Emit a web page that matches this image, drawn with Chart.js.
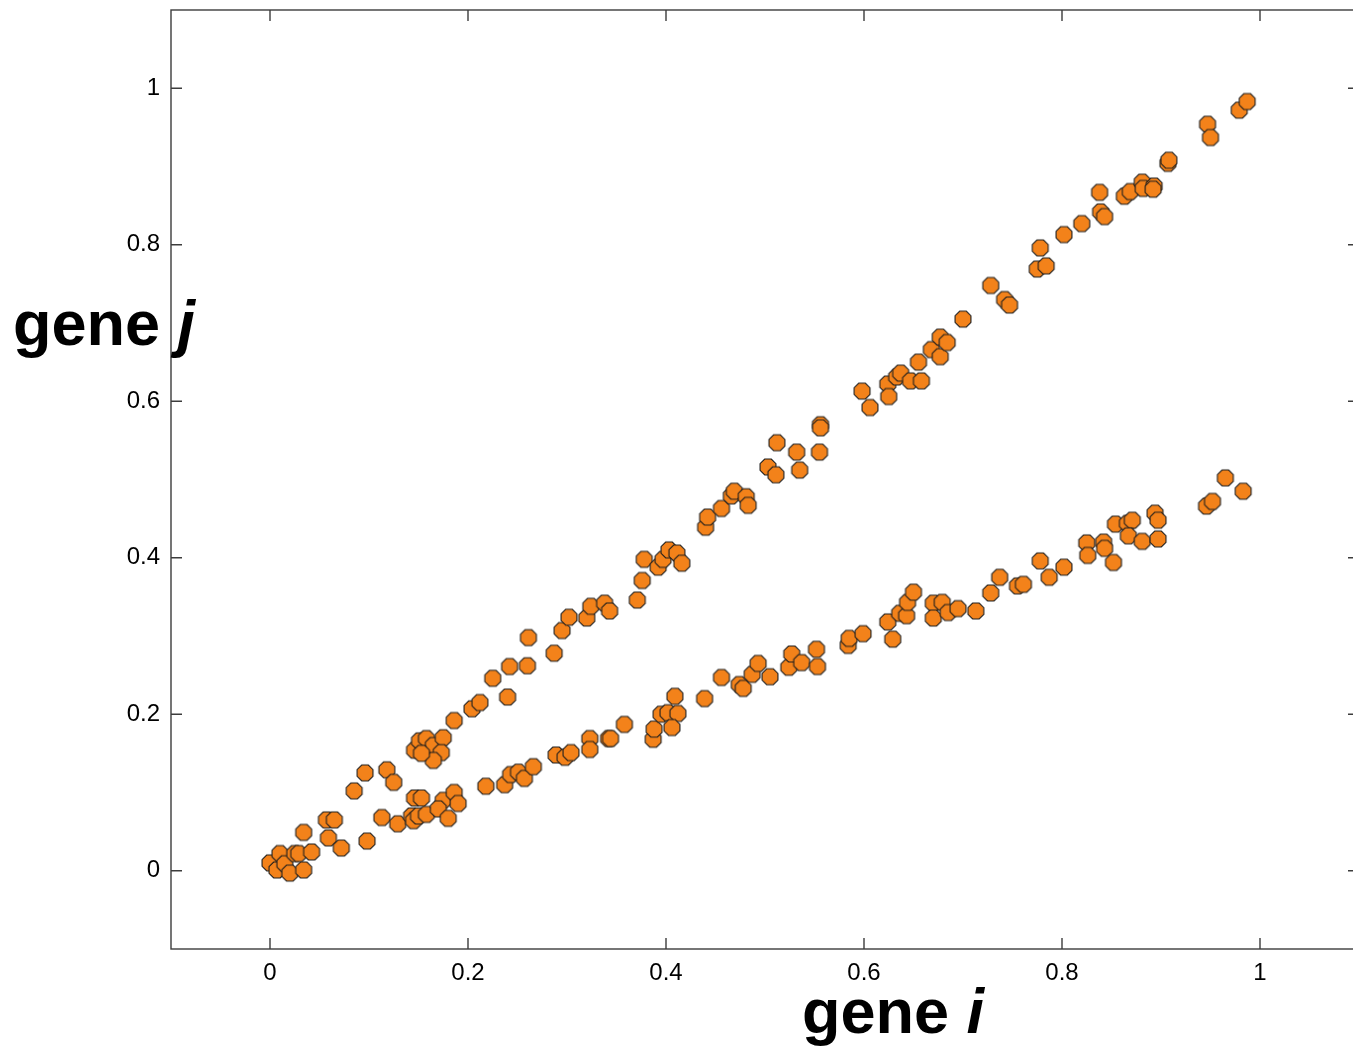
<!DOCTYPE html>
<html>
<head>
<meta charset="utf-8">
<title>gene i vs gene j</title>
<script src="https://cdn.jsdelivr.net/npm/chart.js@4.4.0/dist/chart.umd.min.js"></script>
<style>
    html, body { margin: 0; padding: 0; background: #fff; overflow: hidden; }
    #wrap { width: 1362px; height: 1050px; }
    #grafico { display: block; }
</style>
</head>
<body>
<div id="wrap"><canvas id="grafico" width="1362" height="1050"></canvas></div>
<script>
// Datos: expresión del gen i (eje x) y del gen j (eje y)
const geneI = [
    // nube cerca del origen
    0.000, 0.010, 0.007, 0.015, 0.020, 0.025, 0.029, 0.034, 0.042, 0.034,
    0.057, 0.065, 0.059, 0.072, 0.098, 0.085, 0.096, 0.118, 0.125, 0.113, 0.129,
    // banda inferior
    0.143, 0.145, 0.150, 0.158, 0.146, 0.153, 0.175, 0.186, 0.190, 0.170, 0.180,
    0.218, 0.237, 0.243, 0.251, 0.257, 0.266, 0.289, 0.298, 0.304, 0.323,
    0.323, 0.342, 0.344, 0.358, 0.387, 0.388, 0.395, 0.402, 0.412, 0.406,
    0.409, 0.439, 0.456, 0.474, 0.478, 0.487, 0.493, 0.505, 0.524, 0.527,
    0.537, 0.552, 0.553, 0.584, 0.585, 0.599, 0.624, 0.629, 0.636, 0.643,
    0.644, 0.650, 0.670, 0.679, 0.670, 0.685, 0.695, 0.713, 0.728, 0.737,
    0.755, 0.761, 0.778, 0.787, 0.802, 0.825, 0.826, 0.842, 0.843, 0.852,
    0.854, 0.866, 0.871, 0.867, 0.881, 0.897, 0.894, 0.897, 0.946, 0.952,
    0.965, 0.983,
    // banda superior
    0.146, 0.151, 0.158, 0.165, 0.175, 0.173, 0.165, 0.153, 0.186,
    0.204, 0.212, 0.225, 0.240, 0.242, 0.260, 0.261, 0.287, 0.295, 0.302,
    0.320, 0.324, 0.338, 0.343, 0.371, 0.376, 0.378, 0.392, 0.397, 0.403,
    0.411, 0.416, 0.440, 0.442, 0.456, 0.466, 0.469, 0.481, 0.483, 0.503,
    0.511, 0.512, 0.532, 0.535, 0.555, 0.556, 0.556, 0.598, 0.606, 0.624,
    0.625, 0.633, 0.637, 0.647, 0.658, 0.655, 0.668, 0.677, 0.677, 0.684,
    0.700, 0.728, 0.742, 0.747, 0.775, 0.784, 0.778, 0.802, 0.820, 0.838,
    0.839, 0.843, 0.863, 0.869, 0.881, 0.882, 0.893, 0.892, 0.907, 0.908,
    0.947, 0.950, 0.979, 0.987
];

const geneJ = [
    0.010, 0.022, 0.001, 0.009, -0.003, 0.022, 0.022, 0.001, 0.024, 0.049,
    0.065, 0.065, 0.042, 0.029, 0.038, 0.102, 0.125, 0.129, 0.113, 0.068, 0.060,
    0.070, 0.064, 0.070, 0.072, 0.093, 0.093, 0.090, 0.100, 0.086, 0.079, 0.067,
    0.108, 0.110, 0.123, 0.126, 0.118, 0.133, 0.148, 0.145, 0.151, 0.169,
    0.155, 0.169, 0.169, 0.187, 0.168, 0.181, 0.200, 0.202, 0.201, 0.183,
    0.223, 0.220, 0.247, 0.238, 0.233, 0.251, 0.265, 0.248, 0.260, 0.277,
    0.266, 0.283, 0.261, 0.288, 0.297, 0.303, 0.318, 0.296, 0.329, 0.326,
    0.343, 0.356, 0.342, 0.343, 0.323, 0.330, 0.335, 0.332, 0.355, 0.375,
    0.364, 0.366, 0.396, 0.375, 0.388, 0.419, 0.403, 0.420, 0.412, 0.394,
    0.443, 0.444, 0.448, 0.428, 0.421, 0.424, 0.457, 0.448, 0.466, 0.472,
    0.502, 0.485,
    0.154, 0.166, 0.169, 0.160, 0.170, 0.151, 0.141, 0.150, 0.192,
    0.207, 0.215, 0.246, 0.222, 0.261, 0.262, 0.298, 0.278, 0.307, 0.324,
    0.323, 0.338, 0.342, 0.332, 0.346, 0.371, 0.398, 0.388, 0.398, 0.410,
    0.406, 0.393, 0.439, 0.452, 0.463, 0.479, 0.485, 0.478, 0.467, 0.516,
    0.506, 0.547, 0.535, 0.512, 0.535, 0.570, 0.566, 0.613, 0.592, 0.622,
    0.606, 0.631, 0.636, 0.626, 0.626, 0.650, 0.666, 0.657, 0.682, 0.675,
    0.705, 0.748, 0.730, 0.723, 0.769, 0.773, 0.796, 0.813, 0.827, 0.867,
    0.842, 0.836, 0.862, 0.868, 0.880, 0.872, 0.875, 0.871, 0.904, 0.908,
    0.954, 0.937, 0.972, 0.983
];

const tickValues = [0, 0.2, 0.4, 0.6, 0.8, 1];
const tickLabels = ['0', '0.2', '0.4', '0.6', '0.8', '1'];

const FUENTE = '"Liberation Sans", Arial, Helvetica, sans-serif';

// Marcador octogonal como en la figura original
function crearOctogono(r, relleno, borde) {
    const c = document.createElement('canvas');
    const s = Math.ceil(r * 2 + 2);
    c.width = s;
    c.height = s;
    const g = c.getContext('2d');
    g.beginPath();
    for (let k = 0; k < 8; k++) {
        const a = Math.PI / 8 + k * Math.PI / 4;
        const px = s / 2 + r * Math.cos(a);
        const py = s / 2 + r * Math.sin(a);
        if (k === 0) g.moveTo(px, py); else g.lineTo(px, py);
    }
    g.closePath();
    g.fillStyle = relleno;
    g.fill();
    g.lineWidth = 1.1;
    g.strokeStyle = borde;
    g.stroke();
    return c;
}

const marcador = crearOctogono(8.6, '#f3821a', '#1e1e1e');

// Caja, marcas hacia dentro y títulos de ejes
const marcoPlugin = {
    id: 'marco',
    afterDraw(chart) {
        const ctx = chart.ctx;
        const area = chart.chartArea;
        const sx = chart.scales.x;
        const sy = chart.scales.y;
        const largo = 11;

        ctx.save();
        ctx.strokeStyle = '#3c3c3c';
        ctx.lineWidth = 1.4;
        ctx.strokeRect(area.left, area.top, area.right - area.left, area.bottom - area.top);

        ctx.beginPath();
        tickValues.forEach(v => {
            const px = sx.getPixelForValue(v);
            ctx.moveTo(px, area.bottom);
            ctx.lineTo(px, area.bottom - largo);
            ctx.moveTo(px, area.top);
            ctx.lineTo(px, area.top + largo);
            const py = sy.getPixelForValue(v);
            ctx.moveTo(area.left, py);
            ctx.lineTo(area.left + largo, py);
            ctx.moveTo(area.right, py);
            ctx.lineTo(area.right - largo, py);
        });
        ctx.stroke();

        // Títulos: "gene" en negrita y la letra en cursiva
        ctx.fillStyle = '#000';
        ctx.textBaseline = 'alphabetic';
        ctx.textAlign = 'left';
        const dibujarTitulo = (base, letra, x, y) => {
            ctx.font = 'bold 63px ' + FUENTE;
            ctx.fillText(base, x, y);
            const w = ctx.measureText(base).width;
            ctx.font = 'italic bold 63px ' + FUENTE;
            ctx.fillText(letra, x + w, y);
        };
        dibujarTitulo('gene ', 'j', 13, 345);
        dibujarTitulo('gene ', 'i', 802, 1033);
        ctx.restore();
    }
};

const ctx = document.getElementById('grafico');

new Chart(ctx, {
    type: 'scatter',
    data: {
        datasets: [{
            data: geneI.map((x, i) => ({ x: x, y: geneJ[i] })),
            pointStyle: marcador,
            pointRadius: 8.6,
            pointHoverRadius: 8.6,
            backgroundColor: '#f3821a',
            borderColor: '#1e1e1e'
        }]
    },
    options: {
        responsive: false,
        animation: false,
        devicePixelRatio: 1,
        // el borde derecho del eje queda fuera de la imagen, como en el original
        layout: {
            autoPadding: false,
            padding: { left: 0, right: 3, top: 10, bottom: 0 }
        },
        plugins: {
            legend: { display: false },
            tooltip: { enabled: false }
        },
        scales: {
            x: {
                type: 'linear',
                min: -0.1,
                max: 1.1,
                grid: { display: false, drawTicks: false },
                border: { display: false },
                ticks: {
                    color: '#000',
                    padding: 10,
                    maxRotation: 0,
                    font: { family: FUENTE, size: 24 },
                    callback: (value, index) => tickLabels[index]
                },
                afterBuildTicks: (scale) => {
                    scale.ticks = tickValues.map(v => ({ value: v }));
                },
                afterFit: (scale) => {
                    scale.height = 101;
                    scale.paddingLeft = 0;
                    scale.paddingRight = 0;
                }
            },
            y: {
                type: 'linear',
                min: -0.1,
                max: 1.1,
                grid: { display: false, drawTicks: false },
                border: { display: false },
                ticks: {
                    color: '#000',
                    padding: 11,
                    font: { family: FUENTE, size: 24 },
                    callback: (value, index) => tickLabels[index]
                },
                afterBuildTicks: (scale) => {
                    scale.ticks = tickValues.map(v => ({ value: v }));
                },
                afterFit: (scale) => {
                    scale.width = 171;
                    scale.paddingTop = 0;
                    scale.paddingBottom = 0;
                }
            }
        }
    },
    plugins: [marcoPlugin]
});
</script>
</body>
</html>
